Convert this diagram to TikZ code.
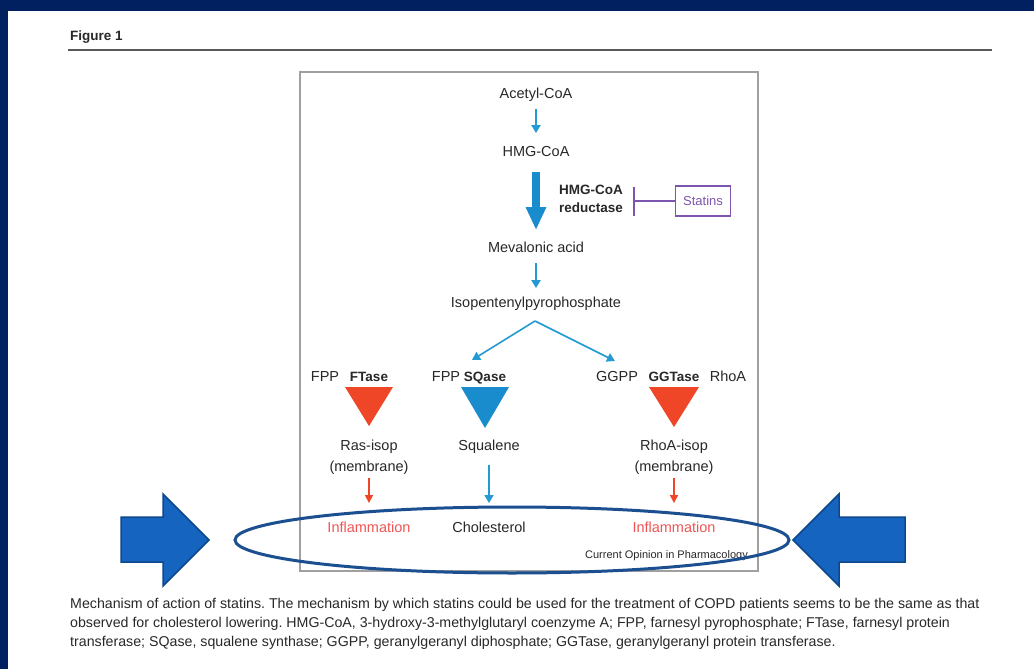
\documentclass[tikz,border=0pt]{standalone}
\usepackage{fontspec}
\setmainfont{Liberation Sans}
\usepackage{tikz}
\usetikzlibrary{positioning}
\usetikzlibrary{arrows.meta}
\definecolor{navy-bg}{RGB}{0,32,96}
\definecolor{txt-a}{RGB}{40,40,40}
\definecolor{cyan-a}{RGB}{35,155,210}
\definecolor{blue-a}{RGB}{25,140,205}
\definecolor{red-a}{RGB}{240,70,40}
\definecolor{red-b}{RGB}{240,85,85}
\definecolor{purple-a}{RGB}{125,85,175}
\definecolor{box-a}{RGB}{160,160,160}
\definecolor{ring-a}{RGB}{27,79,143}
\definecolor{big-a}{RGB}{21,101,192}
\definecolor{big-b}{RGB}{14,72,140}
\frenchspacing

\begin{document}
\begin{tikzpicture}
[
x=1pt, y=-1pt, on grid,
mol/.style={text=txt-a, font=\fontsize{14.5}{17}\selectfont, inner sep=1pt, text height=10.5pt, text depth=3pt},
enz/.style={mol, font=\bfseries\fontsize{13.5}{17}\selectfont},
small-a/.style={text=txt-a, font=\fontsize{11}{13}\selectfont, inner sep=0pt},
caption-a/.style={text=txt-a, font=\fontsize{14.2}{16}\selectfont, inner sep=0pt, anchor=base west},
thin-arr/.style={cyan-a, line width=2pt, -{Triangle[length=8pt,width=9pt]}},
red-arr/.style={red-a, line width=1.6pt, -{Triangle[length=8pt,width=8pt]}},
]
\useasboundingbox (0,0) rectangle (1034,669);
% frame and page
\fill [navy-bg] (0,0) rectangle (1034,669);
\fill [white]   (8,11) rectangle (1034,669);
\node (fig) [text=txt-a, font=\bfseries\fontsize{13.5}{15}\selectfont, anchor=base west, inner sep=0pt] at (70,41) {Figure 1};
\draw [line width=2pt, black!65] (68,50) -- (992,50);
\draw [line width=1.8pt, box-a] (300,72) rectangle (758,571);

% main pathway
\node (acetyl) [mol]                     at (536,95) {Acetyl-CoA};
\node (hmg)    [mol, below=58pt of acetyl]           {HMG-CoA};
\node (mev)    [mol, below=96pt of hmg]              {Mevalonic acid};
\node (ipp)    [mol, below=55pt of mev]              {Isopentenylpyrophosphate};
\draw [thin-arr, shorten <=6pt, shorten >=12pt] (acetyl) -- (hmg);
\draw [blue-a, line width=8pt, -{Triangle[length=23pt,width=19pt]}, shorten <=11pt, shorten >=11pt] (hmg) -- (mev);
\draw [thin-arr, shorten <=6pt, shorten >=8pt] (mev) -- (ipp);

% enzyme and statins
\node (red1)    [enz, below right=38pt and 55pt of hmg] {HMG-CoA};
\node (red2)    [enz, below=18pt of red1]               {reductase};
\node (statins) [draw=purple-a, line width=1.5pt, text=purple-a, font=\fontsize{13}{15}\selectfont,
                 minimum width=55pt, minimum height=30pt, inner sep=1pt] at (703,201) {Statins};
\coordinate (block) at ([xshift=-70pt]statins.center);
\draw [purple-a, line width=1.8pt, -{Bar[width=29pt,line width=1.8pt]}] (statins) -- (block);

% branches
\coordinate (fork)  at (535,321);
\coordinate (to-sq) at (472,360);
\coordinate (to-gg) at (615,361);
\draw [thin-arr, line width=1.6pt] (fork) -- (to-sq);
\draw [thin-arr, line width=1.6pt] (fork) -- (to-gg);

\node (fpp-a)  [mol]                       at (325,378) {FPP};
\node (ftase)  [enz, right=44pt of fpp-a]               {FTase};
\node (fpp-b)  [mol]                       at (446,378) {FPP};
\node (sqase)  [enz, right=39pt of fpp-b]               {SQase};
\node (ggpp)   [mol]                       at (617,378) {GGPP};
\node (ggtase) [enz, right=57pt of ggpp]                {GGTase};
\node (rhoa)   [mol, right=54pt of ggtase]              {RhoA};

\coordinate (ftri)  at ([yshift=-9pt]ftase.center);
\coordinate (sqtri) at ([yshift=-9pt]sqase.center);
\coordinate (ggtri) at ([yshift=-9pt]ggtase.center);
\fill [red-a]  (ftri)  ++(-24,0) -- ++(48,0) -- ++(-24,39) -- cycle;
\fill [blue-a] (sqtri) ++(-24,0) -- ++(48,0) -- ++(-24,41) -- cycle;
\fill [red-a]  (ggtri) ++(-25,0) -- ++(50,0) -- ++(-25,40) -- cycle;

\node (ras)    [mol, below=69pt of ftase]  {Ras-isop};
\node (ras-m)  [mol, below=21pt of ras]    {(membrane)};
\node (sq)     [mol]            at (489,447) {Squalene};
\node (rho)    [mol, below=69pt of ggtase] {RhoA-isop};
\node (rho-m)  [mol, below=21pt of rho]    {(membrane)};

\node (infl-a) [mol, text=red-b, below=61pt of ras-m] {Inflammation};
\node (chol)   [mol, below=82pt of sq]                {Cholesterol};
\node (infl-b) [mol, text=red-b, below=61pt of rho-m] {Inflammation};
\draw [red-arr, shorten <=2pt, shorten >=18pt]  (ras-m) -- (infl-a);
\draw [thin-arr, line width=1.6pt, shorten <=10pt, shorten >=18pt] (sq) -- (chol);
\draw [red-arr, shorten <=2pt, shorten >=18pt]  (rho-m) -- (infl-b);

\node (credit) [small-a, anchor=base east] at (748,558) {Current Opinion in Pharmacology};

% highlight
\draw [ring-a, line width=3pt] (512,540) ellipse [x radius=277pt, y radius=33pt];
\filldraw [fill=big-a, draw=big-b, line width=1.5pt]
  (121,517) -- (163,517) -- (163,494) -- (209,540) -- (163,586) -- (163,562) -- (121,562) -- cycle;
\filldraw [fill=big-a, draw=big-b, line width=1.5pt]
  (905,517) -- (839,517) -- (839,494) -- (793,540) -- (839,586) -- (839,562) -- (905,562) -- cycle;

% caption
\node (cap-1) [caption-a] at (70,608) {Mechanism of action of statins. The mechanism by which statins could be used for the treatment of COPD patients seems to be the same as that};
\node (cap-2) [caption-a] at (70,627) {observed for cholesterol lowering. HMG-CoA, 3-hydroxy-3-methylglutaryl coenzyme A; FPP, farnesyl pyrophosphate; FTase, farnesyl protein};
\node (cap-3) [caption-a] at (70,646) {transferase; SQase, squalene synthase; GGPP, geranylgeranyl diphosphate; GGTase, geranylgeranyl protein transferase.};
\end{tikzpicture}
\end{document}
